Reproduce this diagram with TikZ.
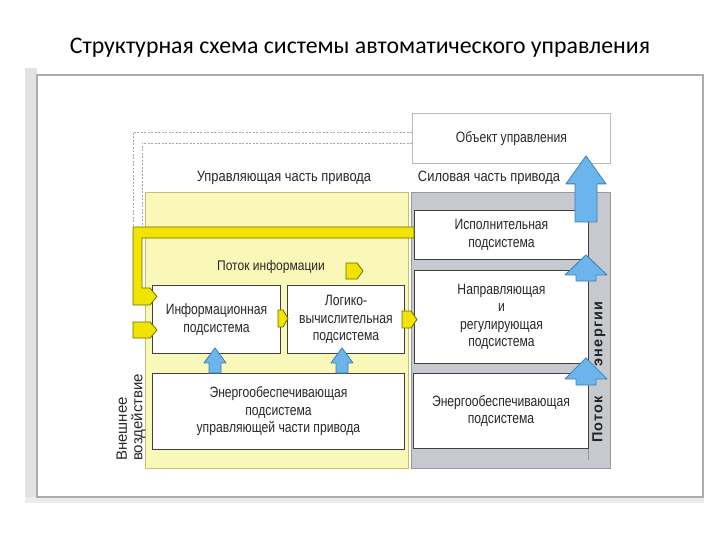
\documentclass[tikz,border=0pt]{standalone}
\usepackage{fontspec}
\setmainfont{Carlito}
\newfontfamily\nar[FakeStretch=0.86]{Liberation Sans}
\newfontfamily\narc[FakeStretch=0.81]{Liberation Sans}
\newfontfamily\lib{Liberation Sans}
\newfontfamily\libb[LetterSpace=8]{Liberation Sans Bold}
\usetikzlibrary{calc}
\definecolor{yfill}{RGB}{250,248,184}
\definecolor{yedge}{RGB}{200,192,110}
\definecolor{gfill}{RGB}{198,201,206}
\definecolor{gedge}{RGB}{150,154,160}
\definecolor{ybar}{RGB}{240,228,0}
\definecolor{ybarline}{RGB}{115,105,0}
\definecolor{bfill}{RGB}{108,180,236}
\definecolor{bline}{RGB}{60,125,185}
\definecolor{txt}{RGB}{40,40,40}
\newcommand\blockup[6]{%
  \draw[#6] let \p1=#1, \p2=#2 in
   (\x2-#4pt,\y1) -- (\x2-#4pt,\y2-#3pt) -- (\x2-#5pt,\y2-#3pt) -- (\x2,\y2)
   -- (\x2+#5pt,\y2-#3pt) -- (\x2+#4pt,\y2-#3pt) -- (\x2+#4pt,\y1) -- cycle;}
\newcommand\ytag[4]{%
  \draw[ytagst] let \p1=#1, \p2=#2 in
   (\x1,\y1+#3pt) -- (\x2-#4pt,\y1+#3pt) -- (\x2,\y1) -- (\x2-#4pt,\y1-#3pt) -- (\x1,\y1-#3pt) -- cycle;}
\begin{document}
\begin{tikzpicture}[x=1pt,y=-1pt,
  box/.style={draw=black!75,line width=0.9pt,fill=white,inner sep=1pt,align=center,
    font=\narc\fontsize{15}{17.5}\selectfont,text=txt,anchor=north west},
  hdr/.style={font=\nar\fontsize{15}{17}\selectfont,text=txt,inner sep=0},
  region/.style={line width=1pt,anchor=north west,inner sep=0},
  ytagst/.style={fill=ybar,draw=ybarline,line width=0.8pt,line join=round},
  barr/.style={fill=bfill,draw=bline,line width=0.8pt,line join=round},
  dashln/.style={draw=gray!70,line width=0.8pt,dash pattern=on 2pt off 1.5pt}
]
\path[use as bounding box] (0,0) rectangle (720,540);
% scanned frame
\fill[gray!22] (25,68) rectangle (37,503);
\fill[gray!15] (25,497) rectangle (704,503);
\draw[gray!65,line width=1.2pt] (37,75) rectangle (703,497);
% title
\node[font=\fontsize{23.8}{26}\selectfont,text=black] (title) at (360,48)
  {Структурная схема системы автоматического управления};
% regions
\node[region,draw=yedge,fill=yfill,minimum width=263pt,minimum height=276pt] (ctrl) at (145,192) {};
\node[region,draw=gedge,fill=gfill,minimum width=199pt,minimum height=276pt] (pow) at (411,192) {};
\draw[gedge,line width=0.8pt] (588,200) -- (588,460);
% headers
\node[hdr] (hc) at (284,178) {Управляющая часть привода};
\node[hdr] (hp) at (489,178) {Силовая часть привода};
% boxes
\node[box,draw=gray!55,minimum width=198pt,minimum height=50pt] (obj) at (412,113) {Объект управления};
\node[box,minimum width=174pt,minimum height=49pt] (isp) at (414,210) {Исполнительная\\подсистема};
\node[box,minimum width=174pt,minimum height=93pt] (napr) at (414,270) {Направляющая\\и\\регулирующая\\подсистема};
\node[box,minimum width=175pt,minimum height=75pt] (enR) at (413,373) {Энергообеспечивающая\\подсистема};
\node[box,minimum width=128pt,minimum height=68pt] (inf) at (152,285) {Информационная\\подсистема};
\node[box,minimum width=117pt,minimum height=68pt] (log) at (287,285) {Логико-\\вычислительная\\подсистема};
\node[box,minimum width=252pt,minimum height=76pt] (enL) at (152,373) {Энергообеспечивающая\\подсистема\\управляющей части привода};
% labels
\node[hdr,font=\nar\fontsize{14}{17}\selectfont] (pinf) at (271,267) {Поток информации};
\node[rotate=90,anchor=west,align=left,inner sep=0,text=txt,
  font=\lib\fontsize{15}{15.5}\selectfont] (ext) at (131,461) {Внешнее\\воздействие};
\node[rotate=90,anchor=west,inner sep=0,text=black!85,
  font=\libb\fontsize{14.5}{16}\selectfont] (pen) at (599,443) {Поток\hspace{30pt}энергии};
% dashed feedback from object
\draw[dashln] (obj.west |- 0,132) -- (133,132) -- (133,227);
\draw[dashln] (obj.west |- 0,143) -- (142,143) -- (142,227);
% yellow feedback bar from executive subsystem
\draw[ytagst] (isp.west |- 0,227) -- (133,227) -- (133,305) -- (150,305) -- (157,296.5)
  -- (150,288) -- (142,288) -- (142,238) -- (isp.west |- 0,238) -- cycle;
% yellow tags
\coordinate (e1) at (133,330);
\ytag{(e1)}{($(e1 -| inf.west)+(5,0)$)}{8}{7}
\coordinate (l1) at (346,271);
\ytag{(l1)}{(363,271)}{8}{6}
\coordinate (il) at (278,318.5);
\ytag{(il)}{($(il -| log.west)+(1,0)$)}{8.5}{5}
\coordinate (ln) at (402,319.5);
\ytag{(ln)}{($(ln -| napr.west)+(3,0)$)}{8.5}{6}
% blue energy arrows
\coordinate (xa) at (215,0);
\coordinate (xb) at (342,0);
\coordinate (xc) at (586,0);
\blockup{(enL.north -| xa)}{($(inf.south -| xa)+(0,-6)$)}{15}{6}{11}{barr}
\blockup{(enL.north -| xb)}{($(log.south -| xb)+(0,-6)$)}{15}{6}{11}{barr}
\blockup{($(isp.north -| xc)+(0,12)$)}{($(obj.south -| xc)+(0,-8)$)}{28}{11}{20}{barr}
\blockup{($(napr.north -| xc)+(0,11)$)}{($(isp.south -| xc)+(0,-5)$)}{20}{10}{21}{barr}
\blockup{($(enR.north -| xc)+(0,12)$)}{($(napr.south -| xc)+(0,-6)$)}{21}{10}{21}{barr}
\end{tikzpicture}
\end{document}
